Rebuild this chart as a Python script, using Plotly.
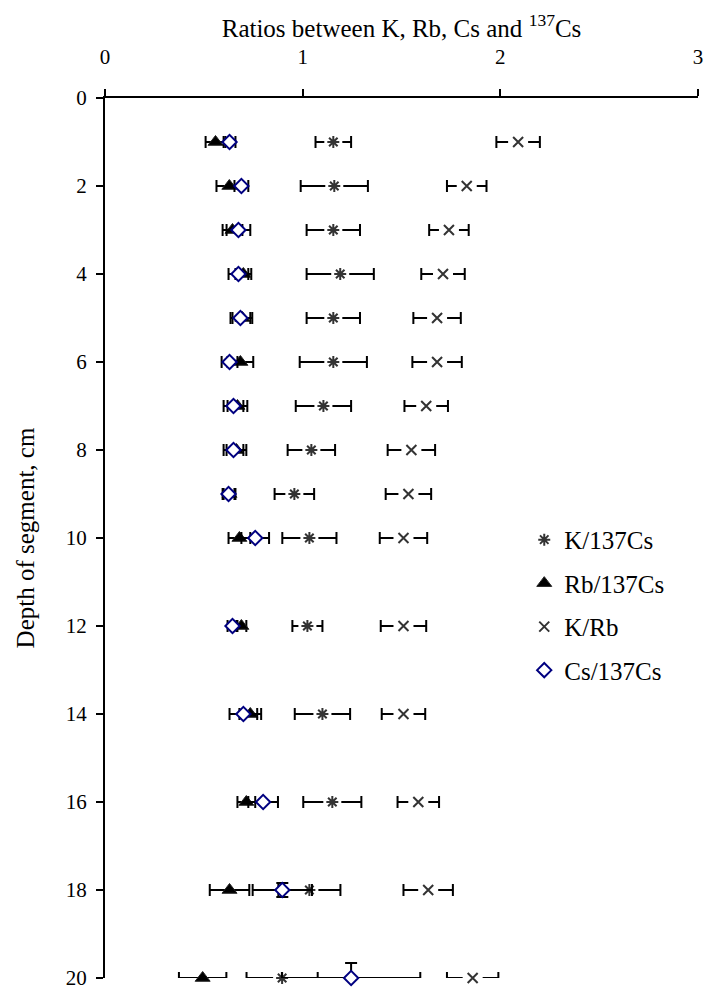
import plotly.graph_objects as go

depth = [1, 2, 3, 4, 5, 6, 7, 8, 9, 10, 12, 14, 16, 18, 20]

k_cs137 = [1.155, 1.16, 1.155, 1.19, 1.155, 1.155, 1.105, 1.044, 0.958, 1.034, 1.024, 1.10, 1.15, 1.034, 0.896]
k_cs137_err = [0.09, 0.17, 0.135, 0.17, 0.135, 0.17, 0.14, 0.12, 0.10, 0.137, 0.076, 0.14, 0.147, 0.157, 0.18]

rb_cs137 = [0.559, 0.629, 0.645, 0.70, 0.695, 0.685, 0.67, 0.665, 0.63, 0.68, 0.69, 0.735, 0.715, 0.63, 0.494]
rb_cs137_err = [0.05, 0.065, 0.05, 0.04, 0.05, 0.065, 0.05, 0.05, 0.03, 0.055, 0.025, 0.055, 0.045, 0.10, 0.12]

k_rb = [2.09, 1.83, 1.74, 1.71, 1.68, 1.68, 1.625, 1.55, 1.535, 1.51, 1.51, 1.51, 1.585, 1.635, 1.86]
k_rb_err = [0.11, 0.10, 0.10, 0.11, 0.12, 0.125, 0.11, 0.12, 0.115, 0.12, 0.115, 0.11, 0.105, 0.125, 0.13]

cs_cs137 = [0.63, 0.69, 0.675, 0.675, 0.685, 0.63, 0.65, 0.65, 0.625, 0.76, 0.645, 0.70, 0.80, 0.897, 1.245]
cs_cs137_err = [0.03, 0.035, 0.06, 0.05, 0.05, 0.04, 0.05, 0.05, 0.03, 0.07, 0.025, 0.07, 0.075, 0.15, 0.35]
cs_cs137_yerr_down = [0, 0, 0, 0, 0, 0, 0, 0, 0, 0, 0, 0, 0, 0.16, 0]
cs_cs137_yerr_up = [0, 0, 0, 0, 0, 0, 0, 0, 0, 0, 0, 0, 0, 0.16, 0.34]

FONT = "Liberation Serif, Times New Roman, serif"

def ex(err):
    return dict(type="data", array=err, visible=True, color="black", thickness=2, width=6)

fig = go.Figure()

# K/137Cs: white backing + error bars, then marker
fig.add_trace(go.Scatter(x=k_cs137, y=depth, mode="markers", showlegend=False, hoverinfo="skip",
                         cliponaxis=False, error_x=ex(k_cs137_err),
                         marker=dict(symbol="square", size=18, color="white", line=dict(width=0))))
fig.add_trace(go.Scatter(x=k_cs137, y=depth, mode="markers", name="K/137Cs", legendgroup="a",
                         cliponaxis=False,
                         marker=dict(symbol="asterisk-open", size=10, color="#333333",
                                     line=dict(width=2, color="#333333"))))

# Rb/137Cs
fig.add_trace(go.Scatter(x=rb_cs137, y=depth, mode="markers", name="Rb/137Cs", legendgroup="b",
                         cliponaxis=False, error_x=ex(rb_cs137_err),
                         marker=dict(symbol="triangle-up", size=13, color="black",
                                     line=dict(width=1, color="#222222"))))

# K/Rb
fig.add_trace(go.Scatter(x=k_rb, y=depth, mode="markers", showlegend=False, hoverinfo="skip",
                         cliponaxis=False, error_x=ex(k_rb_err),
                         marker=dict(symbol="square", size=20, color="white", line=dict(width=0))))
fig.add_trace(go.Scatter(x=k_rb, y=depth, mode="markers", name="K/Rb", legendgroup="c",
                         cliponaxis=False,
                         marker=dict(symbol="x-thin-open", size=10, color="#333333",
                                     line=dict(width=2, color="#333333"))))

# Cs/137Cs
fig.add_trace(go.Scatter(x=cs_cs137, y=depth, mode="markers", name="Cs/137Cs", legendgroup="d",
                         cliponaxis=False, error_x=ex(cs_cs137_err),
                         error_y=dict(type="data", array=cs_cs137_yerr_down, arrayminus=cs_cs137_yerr_up,
                                      symmetric=False, visible=True, color="black",
                                      thickness=2, width=6),
                         marker=dict(symbol="diamond", size=11, color="white",
                                     line=dict(width=2, color="#000080"))))

fig.update_layout(
    width=706, height=991,
    margin=dict(l=105, r=8, t=98, b=13, autoexpand=False),
    paper_bgcolor="white", plot_bgcolor="white",
    font=dict(family=FONT, size=21, color="black"),
    showlegend=True,
    legend=dict(x=0.707, xanchor="left", y=0.524, yanchor="top",
                tracegroupgap=8, bgcolor="rgba(0,0,0,0)",
                font=dict(family=FONT, size=25, color="black"), itemwidth=30),
    xaxis=dict(side="top", range=[0, 3], dtick=1, tick0=0, showgrid=False, zeroline=False,
               showline=True, linecolor="black", linewidth=2, automargin=False,
               ticks="outside", ticklen=7, tickwidth=2, tickcolor="black",
               ticklabeloverflow="allow", ticklabelstandoff=17,
               title=dict(text="Ratios between K, Rb, Cs and <sup>137</sup>Cs", standoff=0,
                          font=dict(family=FONT, size=25)),
               tickfont=dict(size=21)),
    yaxis=dict(range=[20, 0], dtick=2, tick0=0, showgrid=False, zeroline=False,
               showline=True, linecolor="black", linewidth=2, automargin=False,
               ticks="outside", ticklen=7, tickwidth=2, tickcolor="black",
               ticklabeloverflow="allow", ticklabelstandoff=5,
               title=dict(text="Depth of segment, cm", standoff=24, font=dict(family=FONT, size=25)),
               tickfont=dict(size=21)),
)

fig.write_html("out.html", config={"displayModeBar": False},
               post_script="document.body.style.margin='0px';document.body.style.padding='0px';"
                           "document.documentElement.style.overflow='hidden';")
